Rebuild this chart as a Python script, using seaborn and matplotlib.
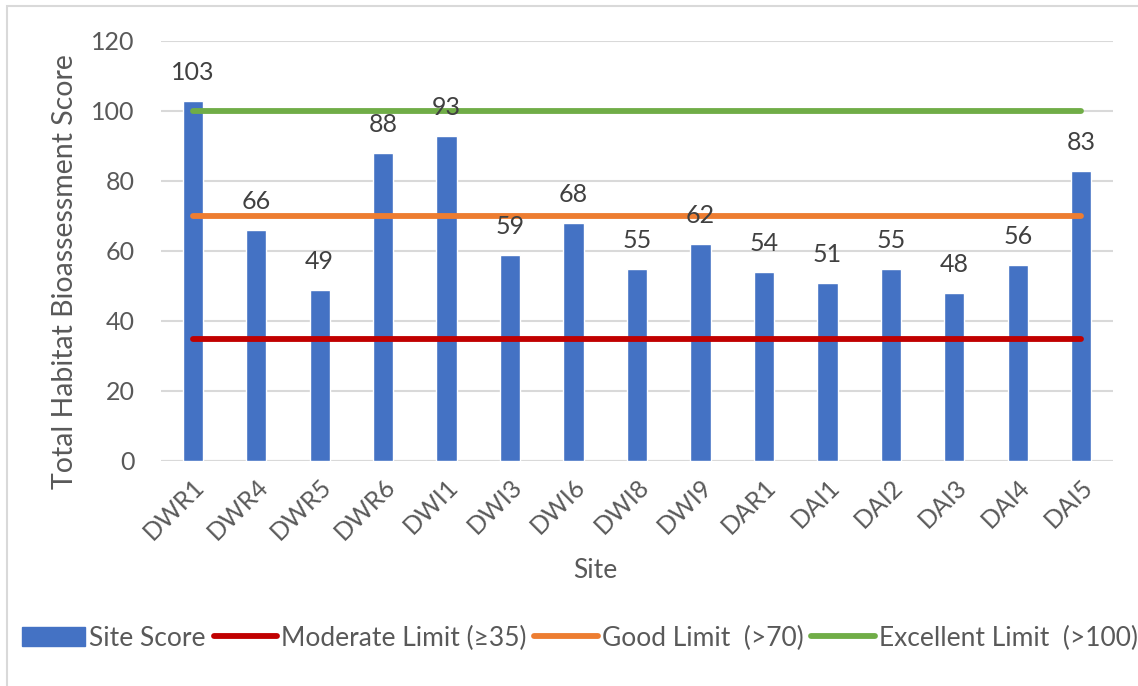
import matplotlib
matplotlib.use("Agg")
import matplotlib.pyplot as plt
import seaborn as sns
import pandas as pd
from matplotlib.patches import Rectangle, Patch
from matplotlib.lines import Line2D

sites = ["DWR1", "DWR4", "DWR5", "DWR6", "DWI1", "DWI3", "DWI6", "DWI8", "DWI9",
         "DAR1", "DAI1", "DAI2", "DAI3", "DAI4", "DAI5"]
scores = [103, 66, 49, 88, 93, 59, 68, 55, 62, 54, 51, 55, 48, 56, 83]
moderate_limit = 35
good_limit = 70
excellent_limit = 100
y_ticks = [0, 20, 40, 60, 80, 100, 120]

BLUE = "#4472C4"
RED = "#C00000"
ORANGE = "#ED7D31"
GREEN = "#70AD47"
TEXT = "#595959"
GRID = "#D9D9D9"

sns.set_theme(style="white")
plt.rcParams["font.family"] = ["Lato", "DejaVu Sans"]

df = pd.DataFrame({"Site": sites, "Score": scores})

fig = plt.figure(figsize=(11.38, 6.86), dpi=100)
ax = fig.add_axes([161 / 1138, 1 - 461 / 686, (1113 - 161) / 1138, (461 - 41) / 686])

sns.barplot(data=df, x="Site", y="Score", color=BLUE, width=0.32,
            saturation=1, ax=ax, zorder=2)

n = len(sites)
for val, col in [(moderate_limit, RED), (good_limit, ORANGE), (excellent_limit, GREEN)]:
    ax.plot([0, n - 1], [val, val], color=col, lw=4.2,
            solid_capstyle="round", zorder=3)

for i, v in enumerate(scores):
    ax.annotate(str(v), (i, v), xytext=(0, 20.5), textcoords="offset points",
                ha="center", va="center", fontsize=18, color="#404040", zorder=4)

ax.set_ylim(0, 120)
ax.set_xlim(-0.5, n - 0.5)
ax.set_yticks(y_ticks)
ax.yaxis.grid(True, color=GRID, lw=1.5, zorder=0)
ax.set_axisbelow(True)
for s in ax.spines.values():
    s.set_visible(False)
ax.axhline(0, color=GRID, lw=1.5, zorder=1)

ax.tick_params(axis="y", labelsize=18, labelcolor=TEXT, length=0, pad=19)
ax.tick_params(axis="x", labelsize=18, labelcolor=TEXT, length=0, pad=10)
for lab in ax.get_xticklabels():
    lab.set_rotation(45)
    lab.set_ha("right")
    lab.set_rotation_mode("anchor")

ax.set_xlabel("Site", fontsize=19, color=TEXT)
ax.xaxis.set_label_coords((595 - 161) / 952, -(571 - 461) / 420, transform=ax.transAxes)
ax.xaxis.label.set_va("center")
ax.set_ylabel("Total Habitat Bioassessment Score", fontsize=20.5, color=TEXT)
ax.yaxis.set_label_coords(-(161 - 65) / 952, (461 - 272) / 420, transform=ax.transAxes)
ax.yaxis.label.set_va("center")

handles = [
    Patch(facecolor=BLUE, edgecolor=BLUE),
    Line2D([], [], color=RED, lw=4.2, solid_capstyle="round"),
    Line2D([], [], color=ORANGE, lw=4.2, solid_capstyle="round"),
    Line2D([], [], color=GREEN, lw=4.2, solid_capstyle="round"),
]
labels = ["Site Score", "Moderate Limit (\u226535)", "Good Limit  (>70)", "Excellent Limit  (>100)"]
leg = fig.legend(handles, labels, loc="center left", bbox_to_anchor=(22 / 1138, 1 - 638 / 686),
                 ncol=4, frameon=False, fontsize=19, handlelength=2.4, handleheight=0.7,
                 handletextpad=0.15, columnspacing=0.3, borderaxespad=0, borderpad=0)
for t in leg.get_texts():
    t.set_color(TEXT)

fig.patches.append(Rectangle((7 / 1138, -0.05), 1.1, 1 - 6 / 686 + 0.05,
                             transform=fig.transFigure, fill=False,
                             edgecolor=GRID, lw=1.5, zorder=0))

fig.savefig("out.png", dpi=100)
